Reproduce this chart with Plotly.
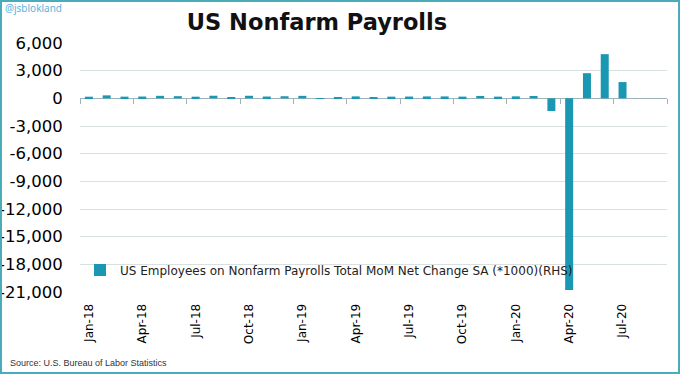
import plotly.graph_objects as go

months = ["Jan-18", "Feb-18", "Mar-18", "Apr-18", "May-18", "Jun-18", "Jul-18", "Aug-18",
          "Sep-18", "Oct-18", "Nov-18", "Dec-18", "Jan-19", "Feb-19", "Mar-19", "Apr-19",
          "May-19", "Jun-19", "Jul-19", "Aug-19", "Sep-19", "Oct-19", "Nov-19", "Dec-19",
          "Jan-20", "Feb-20", "Mar-20", "Apr-20", "May-20", "Jun-20", "Jul-20", "Aug-20",
          "Sep-20"]
payrolls = [176, 324, 182, 196, 270, 235, 178, 282, 108, 277, 196, 227,
            269, 1, 147, 210, 85, 182, 194, 207, 208, 185, 261, 184,
            214, 251, -1373, -20787, 2725, 4791, 1763, None, None]
tick_labels = ["Jan-18", "Apr-18", "Jul-18", "Oct-18", "Jan-19", "Apr-19", "Jul-19",
               "Oct-19", "Jan-20", "Apr-20", "Jul-20"]
y_tick_values = [6000, 3000, 0, -3000, -6000, -9000, -12000, -15000, -18000, -21000]
y_tick_labels = ["6,000", "3,000", "0", "-3,000", "-6,000", "-9,000", "-12,000",
                 "-15,000", "-18,000", "-21,000"]
series_name = "US Employees on Nonfarm Payrolls Total MoM Net Change SA (*1000)(RHS)"

W, H = 680, 374
ML, MR, MT, MB = 80, 13, 43, 82
PW, PH = W - ML - MR, H - MT - MB
YMIN, YMAX = -21000, 6000
n = len(months)

fig = go.Figure()
fig.add_trace(go.Bar(x=months, y=payrolls, name=series_name,
                     marker=dict(color="#1a98b3", line=dict(width=0)),
                     showlegend=True))
# helper trace for the zero-line tick axis
fig.add_trace(go.Scatter(x=[None], y=[None], xaxis="x2", yaxis="y",
                         showlegend=False, hoverinfo="skip"))

fig.update_layout(
    width=W, height=H,
    margin=dict(l=ML, r=MR, t=MT, b=MB, autoexpand=False),
    paper_bgcolor="white", plot_bgcolor="white",
    bargap=0.55,
    font=dict(family="DejaVu Sans", color="black"),
    title=dict(text="<b>US Nonfarm Payrolls</b>", x=317 / W, xanchor="center",
               y=1 - 22 / H, yanchor="middle", yref="container",
               font=dict(family="DejaVu Sans", size=22.5, color="#111")),
    xaxis=dict(type="category", range=[-0.5, n - 0.5], tickmode="array",
               tickvals=tick_labels, ticktext=tick_labels, tickangle=-90,
               tickfont=dict(size=12), showgrid=False, showline=False,
               zeroline=False, ticks="outside", ticklen=6,
               tickcolor="rgba(0,0,0,0)", automargin=False),
    xaxis2=dict(overlaying="x", anchor="free", position=(0 - YMIN) / (YMAX - YMIN),
                range=[-0.5, n - 0.5], tickmode="array",
                tickvals=[i - 0.5 for i in range(0, n + 1, 3)],
                showticklabels=False, ticks="outside", ticklen=5,
                tickcolor="#9fb4ba", showgrid=False, showline=False, zeroline=False,
                automargin=False),
    yaxis=dict(range=[YMIN, YMAX], tickmode="array", tickvals=y_tick_values,
               ticktext=y_tick_labels,
               tickfont=dict(size=16.5), gridcolor="#d8e0e2", gridwidth=1,
               zeroline=True, zerolinecolor="#9fb4ba", zerolinewidth=1,
               showline=False, ticks="outside", ticklen=13,
               tickcolor="rgba(0,0,0,0)", automargin=False),
    legend=dict(x=0.0, xanchor="left", y=(292 - 270) / PH, yanchor="middle",
                bgcolor="rgba(0,0,0,0)", font=dict(size=12, color="#222"),
                itemwidth=30),
    showlegend=True,
)

fig.add_shape(type="rect", xref="paper", yref="paper",
              x0=-(ML - 1) / PW, x1=(W - ML - 1) / PW,
              y0=-(MB - 1) / PH, y1=(H - MB - 1) / PH,
              line=dict(color="#4aabb9", width=2), layer="above")

fig.add_annotation(text="@jsblokland", xref="paper", yref="paper",
                   x=-(ML - 3) / PW, y=(H - MB - 8) / PH, xanchor="left", yanchor="middle",
                   showarrow=False, font=dict(family="Noto Sans", size=10, color="#5ab4dc"))
fig.add_annotation(text="Source: U.S. Bureau of Labor Statistics", xref="paper", yref="paper",
                   x=-(ML - 8) / PW, y=-(363 - MT - PH) / PH, xanchor="left", yanchor="middle",
                   showarrow=False, font=dict(family="Liberation Sans", size=9, color="#333"))

fig.write_html("out.html",
               config={"displayModeBar": False},
               post_script="document.body.style.margin='0';document.body.style.padding='0';"
                           "document.body.style.overflow='hidden';")
